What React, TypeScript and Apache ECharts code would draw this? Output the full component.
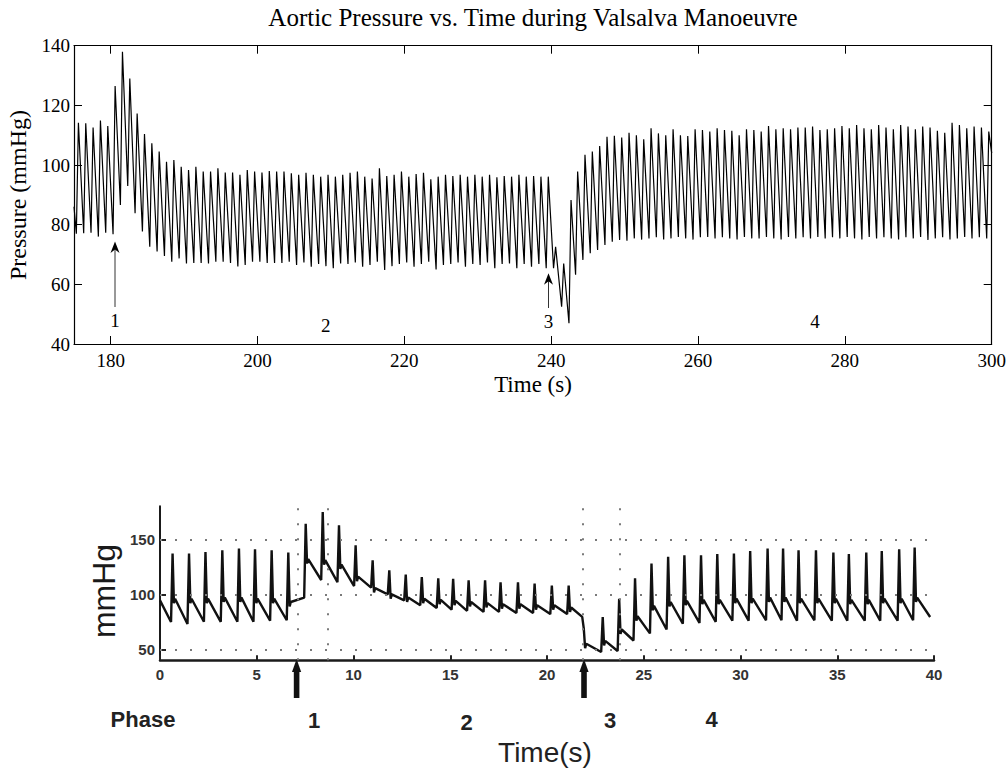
import React, { useEffect, useRef } from "react";
import * as echarts from "echarts";

// ---------- Top chart (Aortic pressure, 175–300 s) ----------
const topXTicks = [180, 200, 220, 240, 260, 280, 300];
// time of each systolic peak (s)
const topPeakTimes = [
  175.6, 176.6, 177.6, 178.6, 179.6, 180.6, 181.6, 182.6, 183.6, 184.6,
  185.6, 186.6, 187.6, 188.6, 189.6, 190.6, 191.6, 192.6, 193.6, 194.6,
  195.6, 196.6, 197.6, 198.6, 199.6, 200.6, 201.6, 202.6, 203.6, 204.6,
  205.6, 206.6, 207.6, 208.6, 209.6, 210.6, 211.6, 212.6, 213.6, 214.6,
  215.6, 216.6, 217.6, 218.6, 219.6, 220.6, 221.6, 222.6, 223.6, 224.6,
  225.6, 226.6, 227.6, 228.6, 229.6, 230.6, 231.6, 232.6, 233.6, 234.6,
  235.6, 236.6, 237.6, 238.6, 239.6, 240.6, 241.7, 242.7, 243.6, 244.6,
  245.6, 246.6, 247.6, 248.6, 249.6, 250.6, 251.6, 252.6, 253.6, 254.6,
  255.6, 256.6, 257.6, 258.6, 259.6, 260.6, 261.6, 262.6, 263.6, 264.6,
  265.6, 266.6, 267.6, 268.6, 269.6, 270.6, 271.6, 272.6, 273.6, 274.6,
  275.6, 276.6, 277.6, 278.6, 279.6, 280.6, 281.6, 282.6, 283.6, 284.6,
  285.6, 286.6, 287.6, 288.6, 289.6, 290.6, 291.6, 292.6, 293.6, 294.6,
  295.6, 296.6, 297.6, 298.6, 299.6,
];
// diastolic minimum just before each peak (mmHg)
const topTroughs = [
  77, 77.1, 77.3, 76, 77.3, 76.8, 86.6, 93, 83.8, 77.7,
  72.6, 71, 69.5, 67.6, 68.7, 67, 67.2, 67.2, 67, 67.6,
  67.6, 67.2, 66, 66.5, 67.6, 67.6, 67.2, 67.2, 67.2, 67.6,
  66.5, 67.3, 65.9, 66.8, 66.1, 65.4, 67.0, 66.8, 67.3, 65.9,
  66.5, 67.6, 64.8, 66.1, 66.8, 67.3, 65.9, 66.8, 67.6, 65.0,
  66.5, 66.8, 67.3, 65.9, 66.8, 66.5, 67.3, 65.4, 66.8, 67.0,
  65.4, 66.8, 65.9, 66.8, 65.4, 65.4, 52.5, 47, 63.2, 68.2,
  70.4, 71.5, 73.2, 74.3, 74.9, 74.6, 75.4, 75, 75.4, 75.8,
  75, 75.4, 75.9, 75.4, 75, 75.8, 75.9, 75.4, 75.8, 75.4,
  75, 75.9, 75.4, 75.4, 75.9, 75.4, 75, 75.9, 75.4, 75.8,
  75.4, 75.9, 75.4, 75.8, 75.4, 75.9, 75.4, 75, 75.9, 75.4,
  75.8, 75.4, 75, 75.8, 75.4, 75.9, 74.9, 75.4, 75.8, 75,
  75.4, 75.9, 75.4, 75.8, 75.4,
];
// systolic peaks (mmHg)
const topPeaks = [
  114.2, 114, 112.6, 114.9, 113.1, 126.5, 138, 129, 117.3, 110.4,
  107.3, 104.5, 101.1, 101.7, 99.4, 98.3, 99.4, 97.8, 97.8, 98.9,
  97.5, 97.5, 96.7, 98.3, 97.8, 97.5, 98, 97.8, 97.8, 97.2,
  96.7, 97.4, 96.7, 96.1, 96.7, 96.1, 96.7, 97.4, 97.8, 96.1,
  95.5, 98.9, 96.3, 96.7, 97.8, 96.1, 97.0, 97.4, 95.2, 96.1,
  96.7, 96.3, 96.7, 96.1, 96.7, 96.1, 96.7, 95.9, 96.3, 96.1,
  96.7, 96.1, 96.3, 96.1, 96.1, 72.6, 67, 88.3, 97.8, 103.4,
  104.5, 106.4, 109.5, 109.8, 109.2, 110.8, 110, 108.6, 112.3, 110.6,
  110, 112, 110, 109.7, 112, 111.7, 111.2, 112.3, 111.7, 111.5,
  110, 112, 111.7, 111.2, 113.1, 112, 112.3, 112, 112.6, 112.6,
  112.9, 111.7, 112, 112.3, 113.1, 112.3, 113.4, 112.3, 112, 113.4,
  112.6, 112, 113.4, 112.9, 112, 112.9, 112.6, 111.5, 110.8, 114.2,
  113.4, 112.3, 112.9, 112.6, 111.2,
];
const topStart = [175, 86];
const topEnd = [300, 104];

// ---------- Bottom chart (textbook trace, 0–40 s) ----------
const bottomYTicks = [50, 100, 150];
const bottomPeakTimes = [
  0.65, 1.5, 2.35, 3.22, 4.08, 4.91, 5.77, 6.63, 7.53, 8.41,
  9.25, 10.11, 10.99, 11.85, 12.7, 13.53, 14.38, 15.15, 15.95, 16.8,
  17.6, 18.5, 19.36, 20.25, 21.12, 21.9, 22.88, 23.73, 24.55, 25.4,
  26.26, 27.1, 27.96, 28.8, 29.66, 30.5, 31.4, 32.2, 33.0, 33.9,
  34.8, 35.6, 36.5, 37.3, 38.2, 39.0,
];
const bottomTroughs = [
  74.8, 73, 75, 75, 75, 75, 76, 76.4, 97, 113,
  111, 107.5, 106, 100, 94.5, 90, 87.5, 86, 85, 84,
  84, 83, 83, 82, 82, 79.4, 47.6, 48.5, 58, 64.5,
  68, 73.3, 74, 75, 76, 76, 76.4, 76.4, 76, 76.4,
  76, 76, 76, 76, 76, 76.4,
];
const bottomPeaks = [
  137, 137, 138.5, 140, 141.6, 141, 140, 138, 164, 174.8,
  162.7, 144.5, 131, 121.8, 118, 115.7, 114.5, 114, 112.7, 112.7,
  111, 111, 109.7, 108, 108, 69, 79.4, 96, 114.5, 128,
  134, 135.5, 135.5, 136.5, 137, 139.4, 141.5, 141.5, 140, 140,
  138, 136.5, 138, 139.4, 141, 142.5,
];
const bottomNotches = [
  95, 95, 95, 96, 96, 95, 95, 92, 131, 130,
  126, 115, 104.6, 99, 96, 95, 94, 93, 92, 91,
  90, 90, 89, 89, 87, 54, 56.6, 67, 79, 88.5,
  92, 93, 94, 94, 95, 95, 96, 96, 95, 95,
  95, 94, 94, 95, 95, 96,
];
const bottomStart = [0, 94.5];
const bottomEnd = [39.8, 79.4];
const phaseMarkerTimes = [7.1, 8.67, 21.85, 23.74];

const serif = "'Liberation Serif', 'Times New Roman', serif";
const sans = "'Liberation Sans', Arial, Helvetica, sans-serif";

function buildTop() {
  const d: number[][] = [topStart];
  topPeakTimes.forEach((t, i) => {
    d.push([t - 0.28, topTroughs[i]]);
    d.push([t, topPeaks[i]]);
  });
  d.push(topEnd);
  return d;
}

function buildBottom() {
  const d: number[][] = [bottomStart];
  bottomPeakTimes.forEach((t, i) => {
    d.push([t - 0.08, bottomTroughs[i]]);
    d.push([t, bottomPeaks[i]]);
    d.push([t + 0.07, bottomNotches[i] - 3]);
    d.push([t + 0.13, bottomNotches[i] + 1]);
  });
  d.push(bottomEnd);
  return d;
}

const black = "#000";

export default function App() {
  const ref = useRef<HTMLDivElement>(null);
  useEffect(() => {
    if (!ref.current) return;
    const chart = echarts.init(ref.current, undefined, { renderer: "svg" });
    const topAxisCommon = {
      type: "value",
      gridIndex: 0,
      min: 175,
      max: 300,
      splitLine: { show: false },
      axisLine: { show: true, onZero: false, lineStyle: { color: black, width: 1.2 } },
      axisTick: { show: true, inside: true, length: 8, customValues: topXTicks, lineStyle: { color: black, width: 1 } },
    };
    const topYCommon = {
      type: "value",
      gridIndex: 0,
      min: 40,
      max: 140,
      interval: 20,
      splitLine: { show: false },
      axisLine: { show: true, onZero: false, lineStyle: { color: black, width: 1.2 } },
      axisTick: { show: true, inside: true, length: 8, lineStyle: { color: black, width: 1 } },
    };
    const dotted = { type: [2, 13], color: "#7a7a7a", width: 2 };
    const option: any = {
      animation: false,
      backgroundColor: "#fff",
      grid: [
        { left: 74, top: 45.7, width: 917.7, height: 298.3, containLabel: false, outerBoundsMode: "none" },
        { left: 160, top: 506.3, width: 774, height: 154, containLabel: false, outerBoundsMode: "none" },
      ],
      xAxis: [
        {
          ...topAxisCommon,
          position: "bottom",
          axisLabel: { customValues: topXTicks, color: black, fontFamily: serif, fontSize: 19, margin: 7 },
        },
        {
          ...topAxisCommon,
          position: "top",
          axisLabel: { show: false },
        },
        {
          type: "value",
          gridIndex: 1,
          min: 0,
          max: 40,
          interval: 5,
          position: "bottom",
          splitLine: { show: false },
          axisLine: { show: true, onZero: false, lineStyle: { color: "#1a1a1a", width: 2.5 } },
          axisTick: { show: true, inside: true, length: 5, lineStyle: { color: "#222", width: 2 } },
          axisLabel: { color: "#333", fontFamily: sans, fontWeight: "bold", fontSize: 15, margin: 7 },
        },
      ],
      yAxis: [
        {
          ...topYCommon,
          position: "left",
          axisLabel: { color: black, fontFamily: serif, fontSize: 19, margin: 4 },
        },
        {
          ...topYCommon,
          position: "right",
          axisLabel: { show: false },
        },
        {
          type: "value",
          gridIndex: 1,
          min: 40,
          max: 180,
          position: "left",
          splitLine: { show: false },
          axisLine: { show: true, onZero: false, lineStyle: { color: "#1a1a1a", width: 2 } },
          axisTick: { show: true, inside: true, length: 6, customValues: bottomYTicks, lineStyle: { color: "#222", width: 2 } },
          axisLabel: { customValues: bottomYTicks, color: "#333", fontFamily: sans, fontWeight: "bold", fontSize: 15, margin: 5 },
        },
      ],
      series: [
        {
          type: "line",
          xAxisIndex: 0,
          yAxisIndex: 0,
          data: buildTop(),
          showSymbol: false,
          silent: true,
          lineStyle: { color: "#000", width: 1.2 },
        },
        {
          type: "line",
          xAxisIndex: 2,
          yAxisIndex: 2,
          data: buildBottom(),
          showSymbol: false,
          silent: true,
          z: 3,
          lineStyle: { color: "#111", width: 2.4 },
          markLine: {
            silent: true,
            symbol: ["none", "none"],
            label: { show: false },
            lineStyle: dotted,
            emphasis: { disabled: true },
            data: [
              ...bottomYTicks.map((v) => ({ yAxis: v })),
              ...phaseMarkerTimes.map((t) => ({ xAxis: t })),
            ],
          },
        },
      ],
      graphic: [
        // top chart texts
        { type: "text", x: 533, y: 17, style: { text: "Aortic Pressure vs. Time during Valsalva Manoeuvre", fill: black, font: `25px ${serif}`, textAlign: "center", textVerticalAlign: "middle" } },
        { type: "text", x: 533, y: 384, style: { text: "Time (s)", fill: black, font: `23px ${serif}`, textAlign: "center", textVerticalAlign: "middle" } },
        { type: "text", x: 18, y: 195, rotation: Math.PI / 2, style: { text: "Pressure (mmHg)", fill: black, font: `24px ${serif}`, textAlign: "center", textVerticalAlign: "middle" } },
        { type: "text", x: 115, y: 320, style: { text: "1", fill: black, font: `19px ${serif}`, textAlign: "center", textVerticalAlign: "middle" } },
        { type: "text", x: 325.7, y: 325, style: { text: "2", fill: black, font: `19px ${serif}`, textAlign: "center", textVerticalAlign: "middle" } },
        { type: "text", x: 548.5, y: 321.7, style: { text: "3", fill: black, font: `19px ${serif}`, textAlign: "center", textVerticalAlign: "middle" } },
        { type: "text", x: 815, y: 321.7, style: { text: "4", fill: black, font: `19px ${serif}`, textAlign: "center", textVerticalAlign: "middle" } },
        // top arrows
        { type: "line", shape: { x1: 115, y1: 307, x2: 115, y2: 248 }, style: { stroke: "#333", lineWidth: 1 } },
        { type: "polygon", shape: { points: [[115, 241.5], [110.5, 253], [115, 249.5], [119.5, 253]] }, style: { fill: black } },
        { type: "line", shape: { x1: 548.5, y1: 308, x2: 548.5, y2: 280 }, style: { stroke: "#333", lineWidth: 1 } },
        { type: "polygon", shape: { points: [[548.5, 273.3], [544, 284.8], [548.5, 281.3], [553, 284.8]] }, style: { fill: black } },
        // bottom chart texts
        { type: "text", x: 104, y: 591, rotation: Math.PI / 2, style: { text: "mmHg", fill: "#1a1a1a", font: `32px ${sans}`, textAlign: "center", textVerticalAlign: "middle" } },
        { type: "text", x: 143, y: 719, style: { text: "Phase", fill: "#222", font: `bold 22px ${sans}`, textAlign: "center", textVerticalAlign: "middle" } },
        { type: "text", x: 314, y: 720, style: { text: "1", fill: "#222", font: `bold 22px ${sans}`, textAlign: "center", textVerticalAlign: "middle" } },
        { type: "text", x: 466.7, y: 722, style: { text: "2", fill: "#222", font: `bold 22px ${sans}`, textAlign: "center", textVerticalAlign: "middle" } },
        { type: "text", x: 610, y: 720, style: { text: "3", fill: "#222", font: `bold 22px ${sans}`, textAlign: "center", textVerticalAlign: "middle" } },
        { type: "text", x: 711.7, y: 719, style: { text: "4", fill: "#222", font: `bold 22px ${sans}`, textAlign: "center", textVerticalAlign: "middle" } },
        { type: "text", x: 545, y: 752, style: { text: "Time(s)", fill: "#222", font: `28px ${sans}`, textAlign: "center", textVerticalAlign: "middle" } },
        // bottom arrows
        { type: "rect", shape: { x: 293.8, y: 670, width: 5.6, height: 28 }, style: { fill: "#111" } },
        { type: "polygon", shape: { points: [[292, 672], [301.2, 672], [296.6, 659]] }, style: { fill: "#111" } },
        { type: "rect", shape: { x: 581.2, y: 670, width: 5.6, height: 28 }, style: { fill: "#111" } },
        { type: "polygon", shape: { points: [[579.4, 672], [588.6, 672], [584, 659]] }, style: { fill: "#111" } },
      ],
    };
    chart.setOption(option);
    return () => chart.dispose();
  }, []);
  return (
    <div
      ref={ref}
      style={{ position: "absolute", left: 0, top: 0, width: 1007, height: 769, background: "#fff" }}
    />
  );
}
